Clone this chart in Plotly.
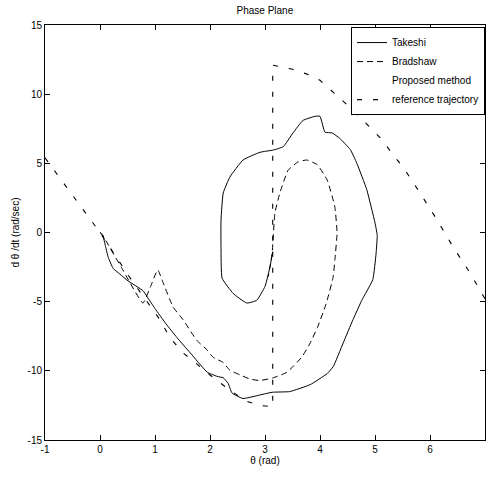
import plotly.graph_objects as go

# Takeshi (solid)
tak_x = [0.0, 0.05, 0.1, 0.15, 0.24, 0.36, 0.51, 0.78, 0.85, 1.0, 1.2, 1.4, 1.64, 1.95, 2.13, 2.24, 2.33, 2.4,
         2.6, 2.85, 3.13, 3.45, 3.82, 4.13, 4.24, 4.42, 4.6, 4.76, 4.96, 5.02, 5.04, 5.0, 4.85, 4.67, 4.55,
         4.36, 4.22, 4.09, 4.0, 3.91, 3.69, 3.51, 3.33, 3.15, 2.91, 2.6, 2.36, 2.24, 2.2, 2.2, 2.22, 2.42,
         2.67, 2.85, 3.0, 3.09, 3.14]
tak_y = [0.0, -0.2, -1.0, -1.8, -2.6, -3.0, -3.5, -4.2, -4.6, -5.5, -6.6, -7.6, -8.7, -10.1, -10.4, -10.5, -10.9, -11.6,
         -12.0, -11.8, -11.55, -11.5, -11.0, -10.2, -9.7, -8.0, -6.3, -4.9, -3.4, -1.5, -0.2, 0.7, 3.1, 5.0, 6.0,
         6.8, 7.2, 7.25, 8.4, 8.4, 8.1, 7.2, 6.2, 5.96, 5.8, 5.24, 4.0, 2.85, 0.9, -1.0, -3.3, -4.4,
         -5.1, -4.9, -3.9, -2.5, -1.4]

# Bradshaw (dashed)
bra_x = [0.0, 0.03, 0.4, 0.78, 0.92, 1.05, 1.15, 1.33, 1.51, 1.76, 1.95, 2.05, 2.24, 2.36, 2.55, 2.73, 2.91,
         3.15, 3.4, 3.67, 3.82, 3.96, 4.09, 4.13, 4.24, 4.27, 4.31, 4.27, 4.13, 3.95, 3.76, 3.6, 3.42, 3.27,
         3.18, 3.13, 3.06]
bra_y = [0.0, -0.1, -2.6, -5.1, -3.9, -2.7, -3.65, -5.4, -6.3, -7.8, -8.5, -9.0, -9.4, -9.95, -10.3, -10.6, -10.7,
         -10.5, -10.1, -9.0, -8.0, -6.8, -5.4, -4.9, -3.2, -2.0, -0.05, 1.85, 3.8, 4.9, 5.24, 5.1, 4.5, 2.85,
         1.4, -1.5, -3.2]

# Reference trajectory (dash-dot, dots too faint to print)
ref_x = [-1.0, -0.5, 0.0, 0.55, 1.09, 1.27, 1.51, 1.76, 2.0, 2.36, 2.67, 2.91, 3.14, 3.14, 3.5, 3.8, 4.0, 4.6,
         5.13, 5.33, 5.51, 5.82, 6.13, 6.42, 6.73, 7.0]
ref_y = [5.4, 2.7, 0.0, -3.3, -6.3, -7.6, -8.7, -9.5, -10.3, -11.4, -12.2, -12.5, -12.6, 12.1, 11.8, 11.4, 11.0, 8.85,
         6.7, 5.6, 4.73, 2.85, 0.9, -1.05, -2.93, -4.8]

x_ticks = [-1, 0, 1, 2, 3, 4, 5, 6, 7]
y_ticks = [-15, -10, -5, 0, 5, 10, 15]

fig = go.Figure()
fig.add_trace(go.Scatter(x=tak_x, y=tak_y, mode="lines", name="Takeshi",
                         line=dict(color="black", width=1.0, shape="spline", smoothing=0.4)))
fig.add_trace(go.Scatter(x=bra_x, y=bra_y, mode="lines", name="Bradshaw",
                         line=dict(color="black", width=1.0, dash="6px,4px", shape="spline", smoothing=0.4)))
fig.add_trace(go.Scatter(x=ref_x, y=ref_y, mode="lines", name="Proposed method",
                         line=dict(color="rgba(0,0,0,0.0)", width=1, dash="dot")))
fig.add_trace(go.Scatter(x=ref_x, y=ref_y, mode="lines", name="reference trajectory",
                         line=dict(color="black", width=1.1, dash="5px,11px")))

font = dict(family="Liberation Sans, Arial, sans-serif", size=10, color="black")
axis_common = dict(showline=True, linecolor="black", linewidth=1, mirror="ticks",
                   ticks="inside", ticklen=5, tickcolor="black", showgrid=False,
                   zeroline=False, tickfont=font)
fig.update_layout(
    width=486, height=479,
    margin=dict(l=45, r=1, t=25, b=39),
    paper_bgcolor="white", plot_bgcolor="white",
    font=font,
    title=dict(text="Phase Plane", x=0.545, xanchor="center", y=0.979, yanchor="middle",
               font=dict(family="Liberation Sans, Arial, sans-serif", size=10, color="black")),
    xaxis=dict(range=[-1, 7], tickvals=x_ticks, ticktext=[str(v) for v in x_ticks],
               title=dict(text="\u03b8 (rad)", standoff=2, font=font), **axis_common),
    yaxis=dict(range=[-15, 15], tickvals=y_ticks, ticktext=[str(v) for v in y_ticks],
               title=dict(text="d \u03b8 /dt (rad/sec)", standoff=6, font=font), **axis_common),
    legend=dict(x=1, y=0.995, xanchor="right", yanchor="top", bgcolor="white",
                bordercolor="black", borderwidth=1, font=font, itemwidth=30,
                tracegroupgap=0),
    showlegend=True,
)
fig.write_html("out.html", config={"displayModeBar": False},
               post_script="document.body.style.margin='0px';")
